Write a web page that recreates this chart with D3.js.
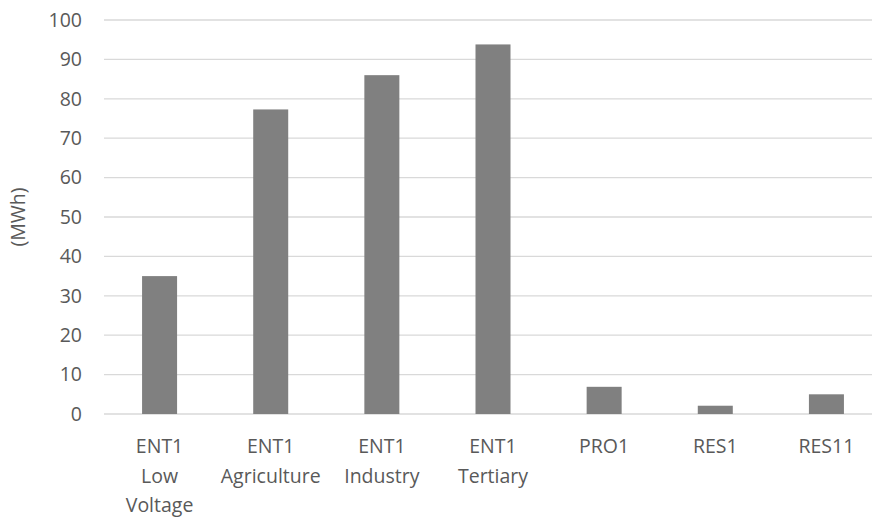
<!DOCTYPE html>
<html>
<head>
<meta charset="utf-8">
<script src="https://cdn.jsdelivr.net/npm/d3@7"></script>
<style>
  body { margin: 0; background: #fff; }
  svg { display: block; font-family: "Open Sans", sans-serif; }
</style>
</head>
<body>
<div id="chart"></div>
<script>
// chart data
const categories = ["ENT1 Low Voltage", "ENT1 Agriculture", "ENT1 Industry", "ENT1 Tertiary", "PRO1", "RES1", "RES11"];
const values = [35, 77.3, 86, 93.8, 6.9, 2.1, 5];
const yTicks = [0, 10, 20, 30, 40, 50, 60, 70, 80, 90, 100];
const yLabel = "(MWh)";

const width = 872, height = 520;
const plot = { left: 104, right: 882, top: 20, bottom: 414 };
const fontSize = "19.5px";

const svg = d3.select("#chart").append("svg")
    .attr("width", width)
    .attr("height", height);

const x = d3.scaleBand()
    .domain(categories)
    .range([plot.left, plot.right])
    .paddingInner(0.685)
    .paddingOuter(0.3425);

const y = d3.scaleLinear()
    .domain([0, 100])
    .range([plot.bottom, plot.top]);

// gridlines
svg.append("g")
    .selectAll("line")
    .data(yTicks)
    .join("line")
    .attr("x1", plot.left)
    .attr("x2", plot.right)
    .attr("y1", d => y(d))
    .attr("y2", d => y(d))
    .attr("stroke", "#d9d9d9")
    .attr("stroke-width", 1.3);

// bars
svg.append("g")
    .selectAll("rect")
    .data(values)
    .join("rect")
    .attr("x", (d, i) => x(categories[i]))
    .attr("width", x.bandwidth())
    .attr("y", d => y(d))
    .attr("height", d => y(0) - y(d))
    .attr("fill", "#808080");

// y axis labels
const yAxis = svg.append("g")
    .attr("transform", `translate(${plot.left - 22},0)`)
    .call(d3.axisLeft(y).tickValues(yTicks).tickSize(0).tickPadding(0));
yAxis.select(".domain").remove();
yAxis.selectAll("text")
    .attr("fill", "#595959")
    .attr("font-size", fontSize)
    .attr("font-family", "Open Sans, sans-serif");

// x axis labels, wrapped on spaces
const xLab = svg.append("g")
    .selectAll("text")
    .data(categories)
    .join("text")
    .attr("x", d => x(d) + x.bandwidth() / 2)
    .attr("y", 453)
    .attr("text-anchor", "middle")
    .attr("fill", "#595959")
    .attr("font-size", fontSize);
xLab.each(function(d) {
    const t = d3.select(this);
    d.split(" ").forEach((w, i) => {
        t.append("tspan")
            .attr("x", t.attr("x"))
            .attr("dy", i === 0 ? 0 : 29.5)
            .text(w);
    });
});

// y title
svg.append("text")
    .attr("transform", `translate(25,${(plot.top + plot.bottom) / 2}) rotate(-90)`)
    .attr("text-anchor", "middle")
    .attr("fill", "#595959")
    .attr("font-size", fontSize)
    .text(yLabel);
</script>
</body>
</html>
